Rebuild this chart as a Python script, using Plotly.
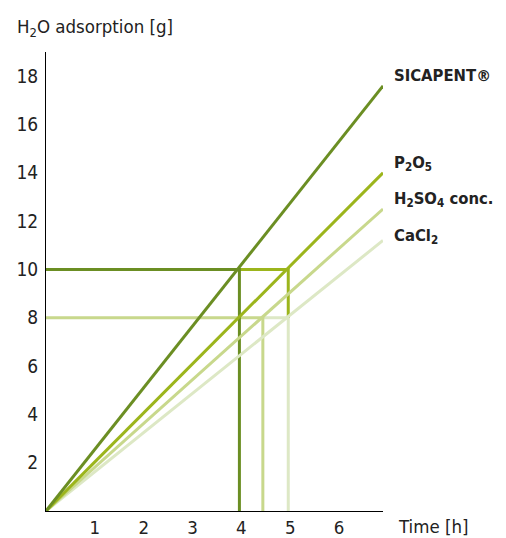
import plotly.graph_objects as go

# ---- data ----
series = ["SICAPENT®", "P2O5", "H2SO4 conc.", "CaCl2"]
labels = ["SICAPENT®", "P<sub>2</sub>O<sub>5</sub>", "H<sub>2</sub>SO<sub>4</sub> conc.", "CaCl<sub>2</sub>"]
colors = ["#6b8e23", "#9cb51c", "#c8d88c", "#dde8c5"]
t_end = 6.9
end_values = [17.6, 14.0, 12.5, 11.2]
# time [h] at which each desiccant reaches the reference mass
ref_mass = [10, 10, 8, 8]
ref_time = [3.96, 4.96, 4.44, 4.96]
x_ticks = [1, 2, 3, 4, 5, 6]
y_ticks = [2, 4, 6, 8, 10, 12, 14, 16, 18]
label_y = [18.03, 14.4, 12.9, 11.35]

FONT = "DejaVu Sans Condensed, Liberation Sans Narrow, Roboto, sans-serif"
TXT = "#222222"

# page has an 8px body margin: figure sized/positioned to compensate
W, H = 498, 530
ML, MR, MT, MB = 38, 123, 44, 27
PW, PH = W - ML - MR, H - MT - MB

fig = go.Figure()

guides = {
    0: ([0, ref_time[0], ref_time[0]], [ref_mass[0], ref_mass[0], 0]),
    1: ([ref_time[0], ref_time[1], ref_time[1]], [ref_mass[1], ref_mass[1], ref_mass[3]]),
    2: ([0, ref_time[2], ref_time[2]], [ref_mass[2], ref_mass[2], 0]),
    3: ([ref_time[2], ref_time[3], ref_time[3]], [ref_mass[3], ref_mass[3], 0]),
}

for i in [3, 2, 1, 0]:
    gx, gy = guides[i]
    fig.add_trace(go.Scatter(x=gx, y=gy, mode="lines",
                             line=dict(color=colors[i], width=3),
                             hoverinfo="skip", showlegend=False))
for i in [3, 2, 1, 0]:
    fig.add_trace(go.Scatter(x=[0, t_end], y=[0, end_values[i]], mode="lines",
                             name=series[i],
                             line=dict(color=colors[i], width=3),
                             showlegend=False))

for i in range(4):
    fig.add_annotation(x=t_end, y=label_y[i], xref="x", yref="y",
                       text="<b>" + labels[i] + "</b>", showarrow=False,
                       xanchor="left", yanchor="middle", xshift=9,
                       font=dict(family=FONT, size=16.5, color=TXT))

fig.add_annotation(x=(7 - ML) / PW, y=1 + (MT - 20) / PH, xref="paper", yref="paper",
                   text="H<sub>2</sub>O adsorption [g]", showarrow=False,
                   xanchor="left", yanchor="middle",
                   font=dict(family=FONT, size=18.5, color=TXT))
fig.add_annotation(x=(388 - ML) / PW, y=-(518 - (H - MB)) / PH, xref="paper", yref="paper",
                   text="Time [h]", showarrow=False,
                   xanchor="left", yanchor="middle",
                   font=dict(family=FONT, size=18.5, color=TXT))

fig.update_layout(
    width=W, height=H,
    margin=dict(l=ML, r=MR, t=MT, b=MB, pad=0),
    paper_bgcolor="white", plot_bgcolor="white",
    font=dict(family=FONT, size=19, color=TXT),
    xaxis=dict(range=[0, t_end], tickvals=x_ticks, showgrid=False, zeroline=False,
               showline=True, linecolor="black", linewidth=1, ticks="",
               tickfont=dict(size=18.5),
               ticklabelstandoff=0, automargin=False, fixedrange=True),
    yaxis=dict(range=[0, 19], tickvals=y_ticks, showgrid=False, zeroline=False,
               showline=True, linecolor="black", linewidth=1, ticks="",
               tickfont=dict(size=19),
               ticklabelstandoff=3, automargin=False, fixedrange=True),
    showlegend=False,
)

fig.write_html("out.html")
